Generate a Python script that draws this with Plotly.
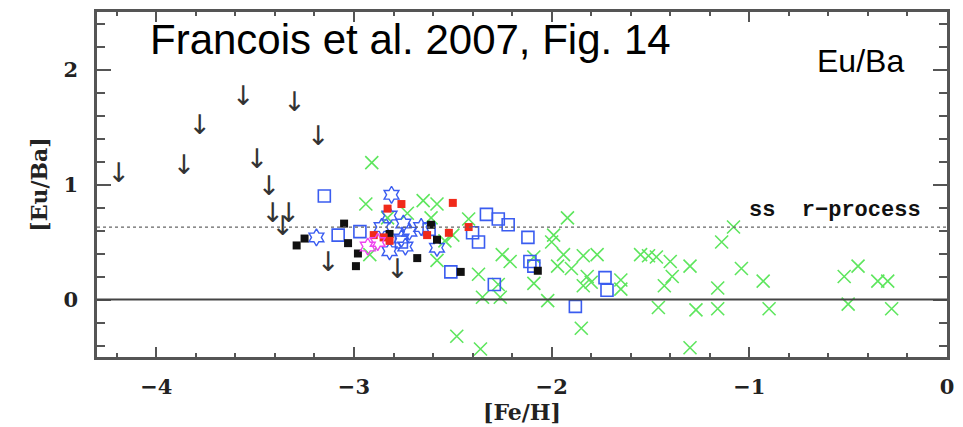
import plotly.graph_objects as go

# ---- data ----
arrow_x = [-4.19, -3.86, -3.78, -3.56, -3.30, -3.18, -3.49, -3.43, -3.41, -3.33, -3.36, -3.13, -2.78]
arrow_y = [1.08, 1.15, 1.50, 1.75, 1.70, 1.40, 1.20, 0.97, 0.73, 0.73, 0.62, 0.31, 0.25]

black_x = [-3.29, -3.25, -3.05, -3.03, -2.98, -2.99, -2.82, -2.68, -2.61, -2.58, -2.46, -2.07]
black_y = [0.47, 0.53, 0.66, 0.49, 0.40, 0.29, 0.57, 0.36, 0.65, 0.52, 0.24, 0.25]

red_x = [-2.76, -2.83, -2.50, -2.90, -2.85, -2.82, -2.63, -2.52, -2.42]
red_y = [0.83, 0.79, 0.84, 0.56, 0.54, 0.51, 0.56, 0.58, 0.63]

magenta_x = [-2.93, -2.88]
magenta_y = [0.46, 0.50]

star_x = [-3.19, -2.81, -2.82, -2.75, -2.72, -2.76, -2.82, -2.74, -2.58, -2.66, -2.86]
star_y = [0.54, 0.91, 0.73, 0.66, 0.59, 0.53, 0.42, 0.46, 0.45, 0.63, 0.63]

sq_x = [-3.15, -3.08, -2.97, -2.76, -2.62, -2.33, -2.27, -2.22, -2.40, -2.37, -2.51,
        -2.12, -2.11, -2.09, -2.29, -1.73, -1.72, -1.88]
sq_y = [0.90, 0.56, 0.59, 0.50, 0.61, 0.74, 0.70, 0.65, 0.58, 0.50, 0.24,
        0.54, 0.33, 0.29, 0.13, 0.19, 0.08, -0.06]

green_x = [-2.91, -2.94, -2.83, -2.73, -2.65, -2.58, -2.61, -2.42, -2.50, -2.54, -2.92, -2.58,
           -2.37, -2.25, -2.21, -2.09, -2.09, -2.27, -2.35, -2.26, -2.02, -2.48, -2.36, -1.85,
           -1.92, -1.99, -2.00, -1.94, -1.84, -1.77, -1.97, -1.90, -1.82, -1.84, -1.65, -1.65,
           -1.55, -1.51, -1.47, -1.40, -1.30, -1.39, -1.43, -1.14, -1.08, -1.04, -1.16, -0.93,
           -0.52, -0.45, -0.35, -0.30, -1.46, -1.27, -1.16, -0.90, -0.50, -0.28, -1.30, -1.80]
green_y = [1.19, 0.83, 0.71, 0.75, 0.86, 0.83, 0.71, 0.70, 0.56, 0.51, 0.39, 0.34,
           0.22, 0.39, 0.33, 0.37, 0.14, 0.13, 0.02, 0.02, -0.01, -0.32, -0.43, -0.25,
           0.71, 0.56, 0.50, 0.39, 0.38, 0.39, 0.29, 0.27, 0.20, 0.12, 0.17, 0.09,
           0.39, 0.38, 0.37, 0.33, 0.29, 0.20, 0.12, 0.50, 0.63, 0.27, 0.10, 0.16,
           0.20, 0.29, 0.16, 0.16, -0.07, -0.09, -0.08, -0.08, -0.04, -0.08, -0.42, 0.15]

ss_r_process = 0.63
zero_level = 0.0
x_range = [-4.3, 0.0]
y_range = [-0.5, 2.5]

GREEN = "#5ee65e"
BLUE = "#3a5cf0"

fig = go.Figure()

fig.add_trace(go.Scatter(x=green_x, y=green_y, mode="markers",
                         marker=dict(symbol="x-thin-open", size=13, color=GREEN,
                                     line=dict(color=GREEN, width=1.6))))
fig.add_trace(go.Scatter(x=sq_x, y=sq_y, mode="markers",
                         marker=dict(symbol="square-open", size=12, color=BLUE,
                                     line=dict(color=BLUE, width=1.6))))
fig.add_trace(go.Scatter(x=star_x, y=star_y, mode="markers",
                         marker=dict(symbol="hexagram-open", size=13, color=BLUE,
                                     line=dict(color=BLUE, width=1.4))))
fig.add_trace(go.Scatter(x=black_x, y=black_y, mode="markers",
                         marker=dict(symbol="square", size=8, color="#111111")))
fig.add_trace(go.Scatter(x=red_x, y=red_y, mode="markers",
                         marker=dict(symbol="square", size=8, color="#f02a1a")))
fig.add_trace(go.Scatter(x=magenta_x, y=magenta_y, mode="markers",
                         marker=dict(symbol="hexagram-open", size=13, color="#ee44ee",
                                     line=dict(color="#ee44ee", width=1.4))))
fig.add_trace(go.Scatter(x=arrow_x, y=arrow_y, mode="text", text=["↓"] * len(arrow_x),
                         textposition="middle center",
                         textfont=dict(family="DejaVu Sans", size=27, color="#333333")))

fig.add_shape(type="line", xref="x", yref="y", x0=x_range[0], x1=x_range[1],
              y0=ss_r_process, y1=ss_r_process, line=dict(color="#666666", width=1.2, dash="dot"))
fig.add_shape(type="line", xref="x", yref="y", x0=x_range[0], x1=x_range[1],
              y0=zero_level, y1=zero_level, line=dict(color="#444444", width=2))

tickfont = dict(family="DejaVu Serif", size=21, color="#222222", weight="bold")
titlefont = dict(family="DejaVu Serif", size=22, color="#222222", weight="bold")
fig.update_xaxes(range=x_range, dtick=1, ticks="inside", ticklen=10, tickwidth=2,
                 tickcolor="#555555", showline=True, linecolor="#555555", linewidth=2.5,
                 mirror="allticks", showgrid=False, zeroline=False,
                 minor=dict(dtick=0.2, ticks="inside", ticklen=4, tickwidth=2, tickcolor="#555555"),
                 tickfont=tickfont, ticklabelstandoff=9,
                 title=dict(text="[Fe/H]", font=titlefont, standoff=4))
fig.update_yaxes(range=y_range, dtick=1, ticks="inside", ticklen=14, tickwidth=2,
                 tickcolor="#555555", showline=True, linecolor="#555555", linewidth=2.5,
                 mirror="allticks", showgrid=False, zeroline=False,
                 minor=dict(dtick=0.2, ticks="inside", ticklen=8, tickwidth=2, tickcolor="#555555"),
                 tickfont=tickfont, ticklabelstandoff=12,
                 title=dict(text="[Eu/Ba]", font=titlefont, standoff=10))

fig.add_annotation(text="Francois et al. 2007, Fig. 14", xref="paper", yref="paper",
                   x=0.369, y=0.92, xanchor="center", yanchor="middle", showarrow=False,
                   font=dict(family="Liberation Sans", size=42, color="#000000"))
fig.add_annotation(text="Eu/Ba", xref="paper", yref="paper",
                   x=0.898, y=0.857, xanchor="center", yanchor="middle", showarrow=False,
                   font=dict(family="Liberation Sans", size=32, color="#000000"))
fig.add_annotation(text="ss  r\u2212process", xref="x", yref="y",
                   x=-0.12, y=ss_r_process + 0.015, xanchor="right", yanchor="bottom", showarrow=False,
                   font=dict(family="Liberation Mono", size=22, color="#111111", weight="bold"))

fig.update_layout(width=963, height=427, showlegend=False,
                  margin=dict(l=97, r=15, t=9, b=61),
                  paper_bgcolor="white", plot_bgcolor="white")

fig.write_html("out.html")
